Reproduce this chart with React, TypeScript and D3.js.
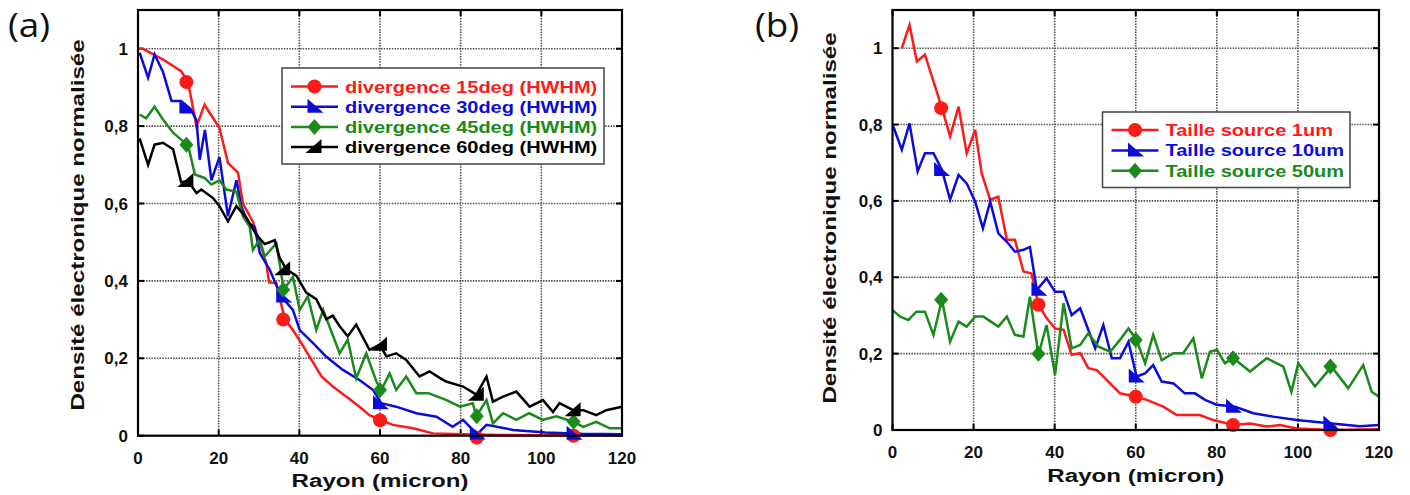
import React from "react";
import * as d3 from "d3";

// ---------- data ----------
const X_TICKS = [0, 20, 40, 60, 80, 100, 120];
const Y_TICKS = [0, 0.2, 0.4, 0.6, 0.8, 1];
const Y_TICK_LABELS = ["0", "0,2", "0,4", "0,6", "0,8", "1"];
const MARKER_X = [12, 36, 60, 84, 108];

const LEGEND_A = ["divergence 15deg (HWHM)", "divergence 30deg (HWHM)", "divergence 45deg (HWHM)", "divergence 60deg (HWHM)"];
const LEGEND_B = ["Taille source 1um", "Taille source 10um", "Taille source 50um"];

const div15: [number, number][] = [
  [0, 1.0], [1.2, 1.0], [6.2, 0.972], [10.7, 0.942], [12.4, 0.914], [14.5, 0.8], [16.5, 0.855], [20.2, 0.795],
  [22.3, 0.705], [24.8, 0.68], [26, 0.6], [28.5, 0.553], [31.8, 0.446], [32.5, 0.396], [34.3, 0.394], [36.4, 0.3],
  [38.4, 0.273], [40.5, 0.239], [43, 0.196], [45.5, 0.153], [48.3, 0.127], [51.6, 0.101], [54.9, 0.075], [57.4, 0.053],
  [60.3, 0.04], [63.2, 0.028], [68.2, 0.019], [73.1, 0.006], [80.6, 0.004], [90, 0.002], [100, 0.001], [110, 0.001], [120, 0.001],
];
const div15M = [0.914, 0.3, 0.04, -0.005, 0];

const div30: [number, number][] = [
  [0.4, 0.99], [2.5, 0.925], [4.1, 0.985], [6.2, 0.94], [8.3, 0.865], [10.7, 0.865], [13, 0.845], [14.5, 0.815],
  [15.3, 0.713], [16.6, 0.79], [18.2, 0.66], [20.2, 0.72], [22.3, 0.567], [24.4, 0.66], [25.6, 0.593], [27.3, 0.55],
  [28.9, 0.54], [30.2, 0.472], [32.6, 0.43], [35.5, 0.36], [38.4, 0.325], [40.1, 0.273], [43.4, 0.239], [46.7, 0.204],
  [50.8, 0.17], [54.9, 0.144], [58.3, 0.118], [60.3, 0.084], [64, 0.075], [69, 0.058], [74, 0.049], [78, 0.023],
  [80.6, 0.041], [83, 0.015], [84.3, 0.006], [86.4, 0.028], [93, 0.015], [101, 0.008], [110, 0.005], [120, 0.004],
];
const div30M = [0.848, 0.36, 0.084, 0.006, 0.005];

const div45: [number, number][] = [
  [0.4, 0.83], [2, 0.82], [4.1, 0.85], [6.2, 0.817], [8.7, 0.783], [10.7, 0.765], [12.4, 0.752], [14.1, 0.675],
  [16.5, 0.666], [18.2, 0.649], [20.2, 0.66], [21.9, 0.636], [24.4, 0.63], [26, 0.567], [27.7, 0.54], [28.5, 0.48],
  [30.2, 0.507], [31.4, 0.463], [34.3, 0.497], [35.5, 0.42], [36.1, 0.377], [38.4, 0.41], [40.1, 0.325], [42.1, 0.36],
  [44.2, 0.273], [45.9, 0.325], [50, 0.213], [52, 0.248], [54.1, 0.148], [56.6, 0.213], [59.1, 0.14], [60.3, 0.118],
  [62.4, 0.161], [64, 0.118], [66.5, 0.153], [69, 0.11], [72, 0.11], [76.5, 0.092], [79.8, 0.075], [83, 0.084],
  [83.9, 0.05], [86.4, 0.092], [88, 0.032], [90.5, 0.058], [93.8, 0.041], [97, 0.058], [100.4, 0.041], [103.7, 0.05],
  [107.9, 0.036], [110.4, 0.023], [113.6, 0.036], [117, 0.019], [120, 0.019],
];
const div45M = [0.752, 0.377, 0.118, 0.05, 0.036];

const div60: [number, number][] = [
  [0.4, 0.768], [2.5, 0.7], [4.1, 0.752], [6.2, 0.757], [8.7, 0.74], [10.7, 0.655], [12.4, 0.658], [14.5, 0.627],
  [15.7, 0.636], [18.6, 0.614], [20.2, 0.593], [22.3, 0.554], [24.4, 0.593], [26.9, 0.563], [29.3, 0.52], [31.4, 0.495],
  [33.9, 0.505], [35.1, 0.46], [36.8, 0.43], [39.3, 0.413], [41.7, 0.37], [44.2, 0.353], [46.7, 0.301], [48.3, 0.31],
  [50, 0.283], [52, 0.257], [54.1, 0.287], [57.4, 0.222], [59.9, 0.235], [61.6, 0.205], [64, 0.213], [66.5, 0.196],
  [69.8, 0.153], [72.3, 0.166], [74.7, 0.15], [76.4, 0.14], [80.6, 0.127], [83.9, 0.106], [86.4, 0.153], [88, 0.088],
  [90.5, 0.101], [93.8, 0.114], [97.1, 0.075], [100.4, 0.092], [102.9, 0.061], [104.5, 0.084], [107.9, 0.066],
  [110.4, 0.066], [113.6, 0.053], [116.1, 0.066], [120, 0.075],
];
const div60M = [0.658, 0.43, 0.235, 0.106, 0.066];

const src1: [number, number][] = [
  [2.3, 1.0], [4.2, 1.061], [6, 0.965], [8, 0.983], [10.1, 0.913], [12.2, 0.843], [14.2, 0.769], [16.3, 0.847],
  [18.3, 0.725], [20.4, 0.786], [22, 0.672], [24.1, 0.603], [26.1, 0.611], [28.2, 0.498], [30.2, 0.498], [32.3, 0.415],
  [34.3, 0.41], [36, 0.328], [38, 0.293], [40.1, 0.266], [42.2, 0.262], [44.2, 0.197], [46.3, 0.201], [48.3, 0.162],
  [50.4, 0.157], [52.8, 0.131], [56.1, 0.096], [60.2, 0.087], [62.7, 0.079], [66.8, 0.061], [70.1, 0.039], [75.8, 0.039],
  [79.1, 0.026], [84.1, 0.013], [88.2, 0.017], [92.3, 0.009], [95.6, 0.013], [99.7, 0.004], [108.3, 0.0], [120, 0.002],
];
const src1M = [0.843, 0.328, 0.087, 0.013, 0.0];

const src10: [number, number][] = [
  [0.2, 0.795], [2.3, 0.734], [4.2, 0.803], [6.2, 0.677], [8, 0.725], [10.1, 0.725], [12.2, 0.681], [14.2, 0.603],
  [16.3, 0.668], [18.3, 0.646], [20.4, 0.598], [22.3, 0.528], [24.1, 0.598], [26.1, 0.515], [28.2, 0.493], [30.2, 0.467],
  [32.3, 0.472], [33.9, 0.479], [35.6, 0.367], [38, 0.397], [40.1, 0.362], [42.2, 0.362], [44.2, 0.301], [46.3, 0.319],
  [50, 0.214], [52, 0.275], [54.1, 0.188], [56.1, 0.188], [58.2, 0.231], [60.2, 0.14], [62.3, 0.148], [64.3, 0.17],
  [66.4, 0.127], [69.3, 0.122], [72.1, 0.096], [74.6, 0.096], [77.1, 0.079], [80, 0.066], [84.5, 0.061], [89, 0.044],
  [93.9, 0.035], [99.7, 0.026], [108.3, 0.017], [115.3, 0.01], [120, 0.013],
];
const src10M = [0.681, 0.367, 0.14, 0.061, 0.017];

const src50: [number, number][] = [
  [0, 0.314], [1.9, 0.297], [3.9, 0.288], [5.9, 0.31], [8, 0.31], [10.1, 0.249], [12.2, 0.341], [14.2, 0.231],
  [16.3, 0.284], [18.3, 0.271], [20.4, 0.297], [22.4, 0.297], [26.1, 0.271], [28.2, 0.297], [30.2, 0.249], [32.3, 0.245],
  [33.9, 0.349], [36, 0.197], [38, 0.275], [40.1, 0.144], [42.2, 0.332], [44.2, 0.214], [46.3, 0.223], [48.3, 0.253],
  [50.8, 0.218], [53.7, 0.205], [56.1, 0.236], [58.2, 0.266], [60.2, 0.236], [62.3, 0.175], [64.3, 0.249], [66.4, 0.183],
  [69.3, 0.201], [71.7, 0.201], [74.2, 0.24], [76.3, 0.135], [78.3, 0.205], [80, 0.21], [82, 0.175], [84.1, 0.188],
  [88.2, 0.153], [92.3, 0.188], [96.4, 0.166], [98.4, 0.1], [100.1, 0.175], [104.2, 0.114], [108.3, 0.166],
  [112.4, 0.109], [116.1, 0.17], [118.2, 0.1], [120, 0.087],
];
const src50M = [0.341, 0.2, 0.236, 0.188, 0.166];

// ---------- styles ----------
const RED = "#ff1a1a";
const BLUE = "#0c0cd8";
const GREEN = "#1a8a1a";
const BLACK = "#000000";
const FONT = "'Liberation Sans', Arial, sans-serif";

type Shape = "circle" | "lowerLeft" | "diamond" | "lowerRight";

interface Series {
  data: [number, number][];
  markers: number[];
  color: string;
  shape: Shape;
  label: string;
}

function Marker({ x, y, shape, color }: { x: number; y: number; shape: Shape; color: string }) {
  if (shape === "circle") return <circle cx={x} cy={y} r={7} fill={color} />;
  let d = "";
  if (shape === "diamond") d = "M0,-8L7,0L0,8L-7,0Z";
  if (shape === "lowerLeft") d = "M-7,-8L-7,6L9,6Z";
  if (shape === "lowerRight") d = "M7,-8L7,6L-9,6Z";
  return <path transform={`translate(${x},${y})`} d={d} fill={color} />;
}

interface PanelProps {
  left: number; right: number; top: number; bottom: number;
  series: Series[];
  legend: { x: number; y: number; w: number; h: number; rowH: number; firstRow: number };
  tag: string; tagX: number;
  yTitleX: number; yTitleY: number;
  xTitleY: number;
}

const TEXT_STRETCH = 1.27;

function Panel(p: PanelProps) {
  const x = d3.scaleLinear().domain([0, 120]).range([p.left, p.right]);
  const y = d3.scaleLinear().domain([0, 1.1]).range([p.bottom, p.top]);
  const line = d3.line<[number, number]>().x((d) => x(d[0])).y((d) => y(d[1]));
  const gridX = X_TICKS.slice(1, -1);
  const gridY = Y_TICKS.slice(1);
  const tl = 6;
  return (
    <g>
      <text transform={`translate(${p.tagX},37) scale(1.15,1)`} fontFamily="'Open Sans', 'Noto Sans', sans-serif" fontSize={32} fill="#111">{p.tag}</text>
      {/* grid */}
      {gridX.map((t) => (
        <line key={"gx" + t} x1={x(t)} x2={x(t)} y1={p.top} y2={p.bottom} stroke="#555" strokeWidth={1.6} strokeDasharray="1.5,1.2" />
      ))}
      {gridY.map((t) => (
        <line key={"gy" + t} x1={p.left} x2={p.right} y1={y(t)} y2={y(t)} stroke="#555" strokeWidth={1.6} strokeDasharray="1.5,1.2" />
      ))}
      {/* ticks */}
      {X_TICKS.map((t) => (
        <g key={"tx" + t}>
          <line x1={x(t)} x2={x(t)} y1={p.bottom} y2={p.bottom - tl} stroke="#000" strokeWidth={2} />
          <line x1={x(t)} x2={x(t)} y1={p.top} y2={p.top + tl} stroke="#000" strokeWidth={2} />
        </g>
      ))}
      {Y_TICKS.map((t) => (
        <g key={"ty" + t}>
          <line x1={p.left} x2={p.left + tl} y1={y(t)} y2={y(t)} stroke="#000" strokeWidth={2} />
          <line x1={p.right} x2={p.right - tl} y1={y(t)} y2={y(t)} stroke="#000" strokeWidth={2} />
        </g>
      ))}
      {/* series */}
      {p.series.map((s, i) => (
        <path key={"l" + i} d={line(s.data) || ""} fill="none" stroke={s.color} strokeWidth={2.5} strokeLinejoin="miter" />
      ))}
      {p.series.map((s, i) =>
        MARKER_X.map((mx, j) => (
          <Marker key={`m${i}-${j}`} x={x(mx)} y={y(s.markers[j])} shape={s.shape} color={s.color} />
        ))
      )}
      {/* frame */}
      <rect x={p.left} y={p.top} width={p.right - p.left} height={p.bottom - p.top} fill="none" stroke="#000" strokeWidth={2.2} />
      {/* tick labels */}
      {X_TICKS.map((t) => (
        <text key={"xl" + t} x={x(t)} y={p.bottom + 28} textAnchor="middle" fontFamily={FONT} fontWeight="bold" fontSize={17} fill="#111">{t}</text>
      ))}
      {Y_TICKS.map((t, i) => (
        <text key={"yl" + t} x={p.left - 10} y={y(t) + 6} textAnchor="end" fontFamily={FONT} fontWeight="bold" fontSize={17} fill="#111">{Y_TICK_LABELS[i]}</text>
      ))}
      {/* titles */}
      <text transform={`translate(${(p.left + p.right) / 2},${p.xTitleY}) scale(${TEXT_STRETCH},1)`} textAnchor="middle" fontFamily={FONT} fontWeight="bold" fontSize={19} fill="#111">Rayon (micron)</text>
      <text transform={`translate(${p.yTitleX},${p.yTitleY}) rotate(-90) scale(${TEXT_STRETCH},1)`} textAnchor="middle" fontFamily={FONT} fontWeight="bold" fontSize={19} fill="#111">Densité électronique normalisée</text>
      {/* legend */}
      <rect x={p.legend.x} y={p.legend.y} width={p.legend.w} height={p.legend.h} fill="#fff" stroke="#444" strokeWidth={1.5} />
      {p.series.map((s, i) => {
        const cy = p.legend.y + p.legend.firstRow + i * p.legend.rowH;
        const lx = p.legend.x + 9;
        return (
          <g key={"lg" + i}>
            <line x1={lx} x2={lx + 47} y1={cy} y2={cy} stroke={s.color} strokeWidth={2.5} />
            <Marker x={lx + 23.5} y={cy} shape={s.shape} color={s.color} />
            <text transform={`translate(${lx + 54},${cy + 6}) scale(1.25,1)`} fontFamily={FONT} fontWeight="bold" fontSize={16} fill={s.color}>{s.label}</text>
          </g>
        );
      })}
    </g>
  );
}

export default function App() {
  const seriesA: Series[] = [
    { data: div15, markers: div15M, color: RED, shape: "circle", label: LEGEND_A[0] },
    { data: div30, markers: div30M, color: BLUE, shape: "lowerLeft", label: LEGEND_A[1] },
    { data: div45, markers: div45M, color: GREEN, shape: "diamond", label: LEGEND_A[2] },
    { data: div60, markers: div60M, color: BLACK, shape: "lowerRight", label: LEGEND_A[3] },
  ];
  const seriesB: Series[] = [
    { data: src1, markers: src1M, color: RED, shape: "circle", label: LEGEND_B[0] },
    { data: src10, markers: src10M, color: BLUE, shape: "lowerLeft", label: LEGEND_B[1] },
    { data: src50, markers: src50M, color: GREEN, shape: "diamond", label: LEGEND_B[2] },
  ];
  return (
    <svg width={1410} height={495} style={{ position: "absolute", left: 0, top: 0, background: "#fff" }}>
      <rect x={0} y={0} width={1410} height={495} fill="#fff" />
      <Panel
        left={138} right={622} top={10} bottom={435.7}
        series={seriesA}
        legend={{ x: 282, y: 68, w: 322, h: 96, rowH: 20.2, firstRow: 18.5 }}
        tag="(a)" tagX={8}
        yTitleX={84} yTitleY={225}
        xTitleY={487}
      />
      <Panel
        left={892.5} right={1379} top={10} bottom={430}
        series={seriesB}
        legend={{ x: 1102.5, y: 112, w: 247.5, h: 75.5, rowH: 20.4, firstRow: 18 }}
        tag="(b)" tagX={755}
        yTitleX={836} yTitleY={218}
        xTitleY={482}
      />
    </svg>
  );
}
